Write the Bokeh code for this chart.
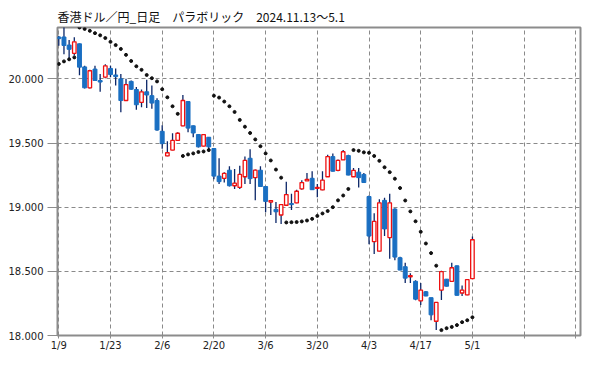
from bokeh.plotting import figure
from bokeh.models import FixedTicker, Range1d, NumeralTickFormatter
from bokeh.embed import file_html
from bokeh.resources import INLINE

title_text = "香港ドル／円_日足　パラボリック　2024.11.13～5.1"
date_labels = ["1/9", "1/23", "2/6", "2/20", "3/6", "3/20", "4/3", "4/17", "5/1"]
y_ticks = [18.0, 18.5, 19.0, 19.5, 20.0]

opens = [20.326, 20.326, 20.263, 20.199, 20.273, 20.093, 19.930, 20.076, 19.987, 20.013,
         20.081, 20.030, 20.000, 19.831, 19.980, 19.917, 19.816, 19.899, 19.869, 19.831,
         19.591, 19.399, 19.445, 19.520, 19.634, 19.823, 19.634, 19.566, 19.475, 19.545,
         19.457, 19.242, 19.225, 19.288, 19.167, 19.154, 19.237, 19.381, 19.230, 19.288,
         19.161, 19.040, 18.983, 18.939, 19.015, 19.028, 19.033, 19.142, 19.205, 19.225,
         19.146, 19.134, 19.237, 19.394, 19.286, 19.369, 19.402, 19.237, 19.273, 19.255,
         19.083, 18.731, 18.657, 19.053, 18.763, 18.985, 18.606, 18.536, 18.457, 18.422,
         18.270, 18.341, 18.295, 18.111, 18.354, 18.439, 18.422, 18.543, 18.331, 18.316,
         18.443]
highs = [20.333, 20.420, 20.303, 20.324, 20.275, 20.101, 20.070, 20.101, 20.038, 20.114,
         20.101, 20.081, 20.038, 20.000, 19.987, 19.937, 19.917, 19.992, 19.949, 19.848,
         19.639, 19.513, 19.576, 19.583, 19.874, 19.826, 19.636, 19.570, 19.570, 19.547,
         19.459, 19.381, 19.273, 19.318, 19.298, 19.323, 19.394, 19.452, 19.293, 19.318,
         19.163, 19.053, 19.040, 19.023, 19.199, 19.104, 19.136, 19.210, 19.267, 19.280,
         19.180, 19.280, 19.409, 19.419, 19.371, 19.445, 19.409, 19.305, 19.305, 19.267,
         19.091, 18.952, 19.061, 19.073, 19.104, 18.992, 18.614, 18.566, 18.485, 18.430,
         18.409, 18.346, 18.295, 18.260, 18.505, 18.441, 18.566, 18.545, 18.389, 18.438,
         18.771]
lows = [20.258, 20.192, 20.152, 20.182, 20.028, 19.925, 19.924, 19.983, 19.899, 20.005,
        20.013, 19.949, 19.740, 19.828, 19.914, 19.760, 19.778, 19.773, 19.767, 19.596,
        19.455, 19.397, 19.443, 19.515, 19.630, 19.583, 19.545, 19.464, 19.472, 19.432,
        19.217, 19.180, 19.192, 19.161, 19.142, 19.142, 19.180, 19.180, 19.053, 19.158,
        18.960, 18.939, 18.877, 18.869, 19.012, 18.977, 19.030, 19.136, 19.203, 19.134,
        19.078, 19.132, 19.235, 19.278, 19.280, 19.367, 19.248, 19.235, 19.154, 19.190,
        18.712, 18.636, 18.655, 18.775, 18.598, 18.586, 18.508, 18.409, 18.409, 18.275,
        18.237, 18.306, 18.119, 18.042, 18.277, 18.382, 18.420, 18.311, 18.307, 18.314,
        18.441]
closes = [20.313, 20.260, 20.230, 20.288, 20.091, 19.930, 20.063, 19.987, 19.975, 20.101,
          20.033, 20.017, 19.831, 19.955, 19.919, 19.798, 19.899, 19.874, 19.811, 19.601,
          19.495, 19.424, 19.520, 19.576, 19.831, 19.616, 19.578, 19.470, 19.566, 19.470,
          19.242, 19.199, 19.263, 19.167, 19.187, 19.255, 19.364, 19.222, 19.288, 19.161,
          19.045, 19.051, 18.964, 19.020, 19.098, 19.020, 19.124, 19.192, 19.217, 19.136,
          19.154, 19.210, 19.394, 19.280, 19.364, 19.432, 19.250, 19.286, 19.230, 19.192,
          18.775, 18.889, 19.034, 18.830, 19.034, 18.611, 18.510, 18.447, 18.467, 18.283,
          18.354, 18.308, 18.161, 18.258, 18.498, 18.384, 18.528, 18.313, 18.354, 18.436,
          18.746]
sar = [20.116, 20.136, 20.152, 20.167, 20.400, 20.389, 20.374, 20.356, 20.339, 20.318,
       20.288, 20.263, 20.233, 20.187, 20.139, 20.098, 20.070, 20.030, 20.005, 19.980,
       19.919, 19.856, 19.786, 19.727, 19.399, 19.411, 19.419, 19.430, 19.434, 19.445,
       19.869, 19.854, 19.823, 19.786, 19.742, 19.680, 19.627, 19.578, 19.528, 19.475,
       19.419, 19.364, 19.293, 19.230, 18.881, 18.883, 18.884, 18.889, 18.896, 18.909,
       18.932, 18.951, 18.970, 19.000, 19.053, 19.091, 19.142, 19.445, 19.439, 19.427,
       19.424, 19.399, 19.361, 19.311, 19.273, 19.222, 19.149, 19.052, 18.967, 18.890,
       18.808, 18.717, 18.642, 18.544, 18.042, 18.057, 18.067, 18.081, 18.104, 18.119,
       18.142]

n = len(opens)
xs = list(range(n))
up_x = [i for i in xs if closes[i] >= opens[i]]
dn_x = [i for i in xs if closes[i] < opens[i]]

p = figure(width=583, height=353, output_backend="svg", toolbar_location=None,
           x_range=Range1d(-0.25, 100.9), y_range=Range1d(18.0, 20.4),
           min_border_left=57, min_border_right=3, min_border_top=27, min_border_bottom=15)
p.background_fill_color = "white"
p.border_fill_color = "white"
p.outline_line_color = "#8c8c8c"
p.outline_line_width = 2

p.title.text = title_text
p.title.text_font = "Noto Sans CJK JP"
p.title.text_font_size = "12px"
p.title.text_font_style = "normal"
p.title.text_color = "#111111"
p.title.align = "left"
p.title.standoff = 6

xt = list(range(0, 101, 10))
p.xaxis.ticker = FixedTicker(ticks=xt)
p.xaxis.major_label_overrides = {t: (date_labels[k] if k < len(date_labels) else "") for k, t in enumerate(xt)}
p.yaxis.ticker = FixedTicker(ticks=y_ticks)
p.yaxis.formatter = NumeralTickFormatter(format="0.000")
for ax in (p.xaxis[0], p.yaxis[0]):
    ax.axis_line_color = None
    ax.major_tick_line_color = "#8c8c8c"
    ax.minor_tick_line_color = None
    ax.major_tick_in = 0
    ax.major_label_text_font = "DejaVu Sans"
    ax.major_label_text_font_size = "10px"
    ax.major_label_text_color = "#222222"
p.xaxis.major_tick_out = 3
p.yaxis.major_tick_out = 10
p.xaxis.major_label_standoff = 1
p.yaxis.major_label_standoff = 4

p.xgrid.ticker = FixedTicker(ticks=xt)
p.ygrid.ticker = FixedTicker(ticks=y_ticks)
for g in (p.xgrid[0], p.ygrid[0]):
    g.grid_line_color = "#8a8a8a"
    g.grid_line_dash = "4 3"
    g.grid_line_width = 1

p.segment(x0=xs, y0=lows, x1=xs, y1=highs, line_color="#0b2668", line_width=1.3)
p.vbar(x=dn_x, width=0.76, top=[opens[i] for i in dn_x], bottom=[closes[i] for i in dn_x],
       fill_color="#1a6fc2", line_color="#1a6fc2", line_width=1)
p.vbar(x=up_x, width=0.68, top=[closes[i] for i in up_x], bottom=[opens[i] for i in up_x],
       fill_color="white", line_color="#ee1010", line_width=1.3)
p.scatter(x=xs, y=sar, size=3, color="#111111", marker="circle")

open("out.html", "w").write(file_html(p, INLINE))
